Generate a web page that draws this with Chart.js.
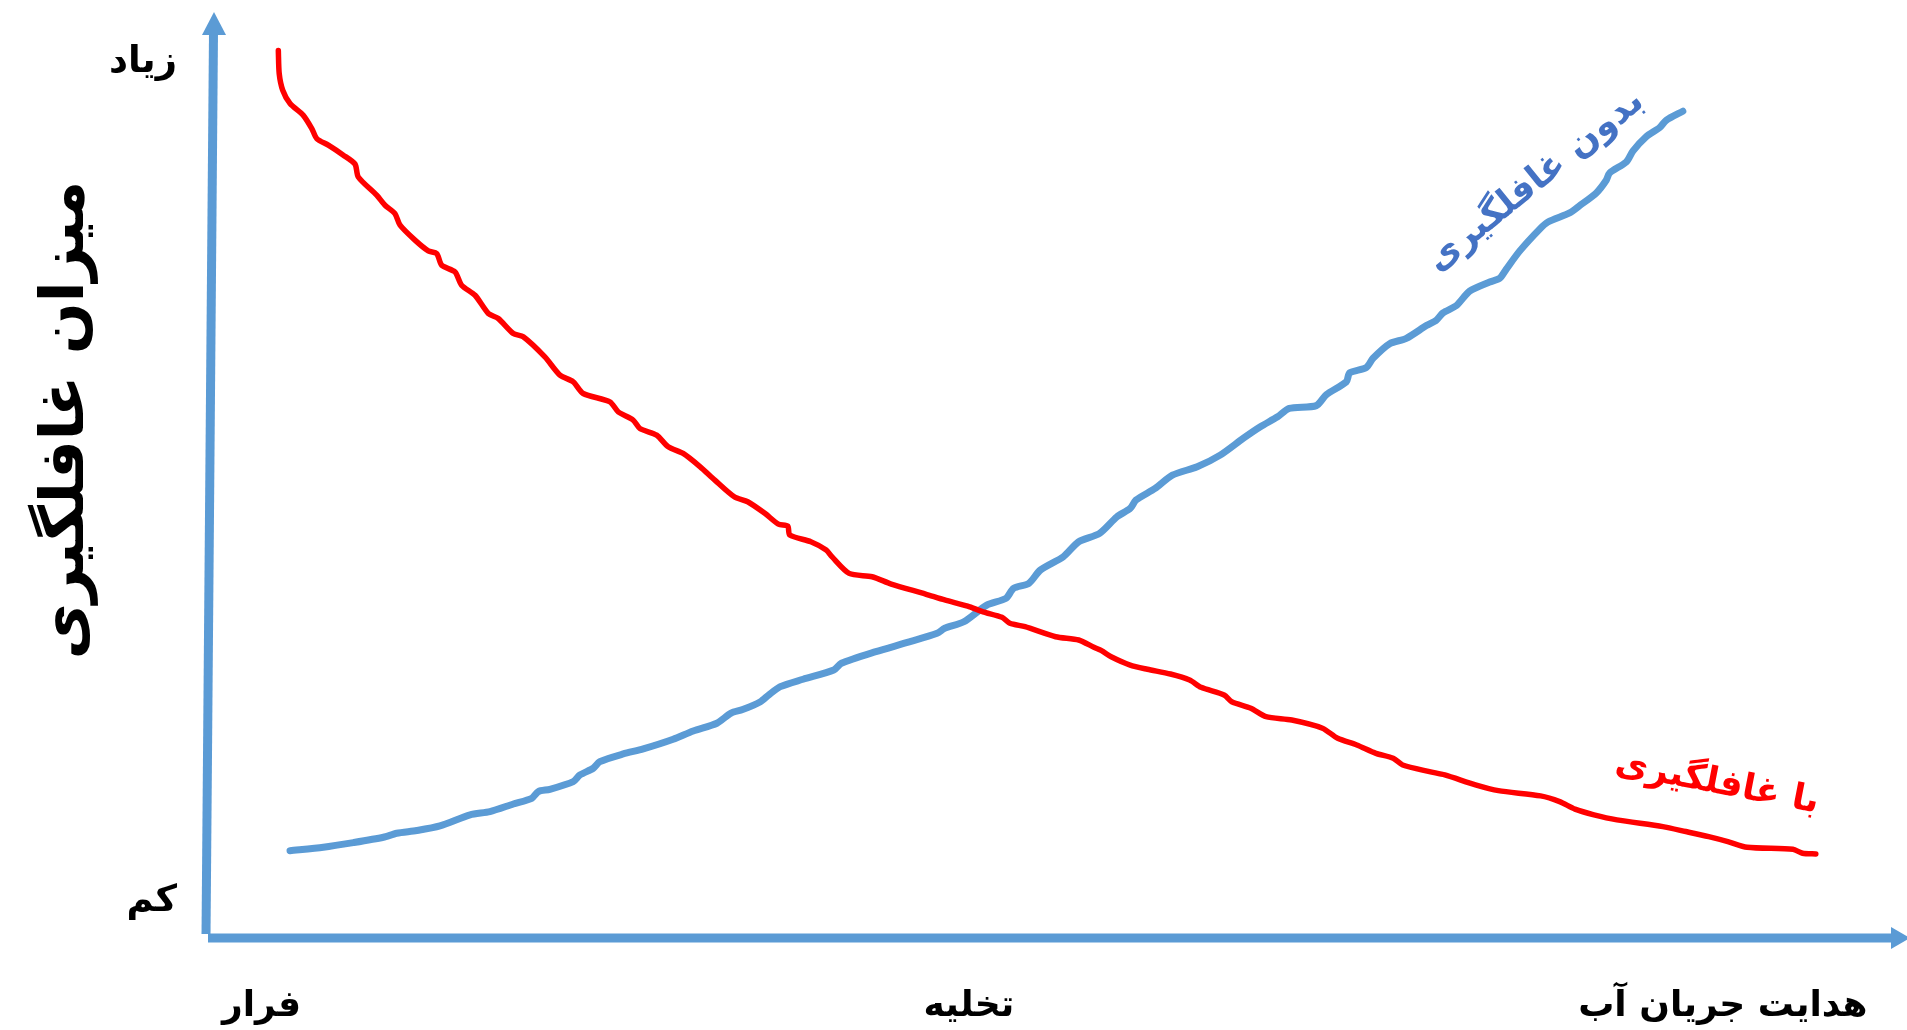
<!DOCTYPE html>
<html lang="fa">
<head>
<meta charset="utf-8">
<title>میزان غافلگیری</title>
<script src="https://cdn.jsdelivr.net/npm/chart.js@4.4.1/dist/chart.umd.min.js"></script>
<style>
  html, body { margin: 0; padding: 0; background: #fff; overflow: hidden; }
  #wrap { width: 1907px; height: 1030px; }
</style>
</head>
<body>
<div id="wrap"><canvas id="chart"></canvas></div>
<script>
'use strict';

// axis labels (x = course of action, y = level of surprise)
const xTickLabels = ['فرار', 'تخلیه', 'هدایت جریان آب']
const xTickValues = [0, 48.4, 100]
const yTickLabels = ['کم', 'زیاد']
const yTickValues = [0, 100]
const yTitle = 'میزان غافلگیری'
const seriesNames = ['با غافلگیری', 'بدون غافلگیری']

// red curve: with surprise
const redX = [1.15,1.21,1.45,1.95,2.86,3.44,3.78,4.57,5.6,6.4,6.62,7.88,8.45,9.13,9.48,10.5,11.41,11.99,12.33,13.24,
  13.69,14.61,15.52,16.2,17.23,17.91,19.39,20.42,21.33,22.01,23.84,24.41,25.43,25.89,27.04,27.83,28.85,30,31.02,32.35,
  33.27,34.44,35.37,36.01,36.15,37.59,38.64,39.03,40.21,41.78,43.09,45.44,46.75,48.32,49.37,50.67,51.21,52.25,54.34,55.92,
  56.96,57.48,58.14,59.44,60.62,62.2,63.51,64.29,65.87,66.39,67.7,68.74,70.5,72.6,73.64,74.95,76.26,77.44,78.09,79.92,
  80.97,83.07,84.64,87.52,88.83,89.88,91.18,92.75,95.89,97.46,99.03,100.34,101.66,104.79,105.45,106.36]
const redY = [101.4,98.65,96.67,95.09,93.68,92.1,90.91,90.12,88.93,87.86,86.33,84.16,82.96,81.97,80.58,78.8,77.52,77.2,75.81,75.01,
  73.43,72.23,70.06,69.46,67.67,67.28,64.88,62.71,61.91,60.52,59.52,58.33,57.35,56.35,55.55,54.16,53.38,51.81,50.19,48.2,
  47.61,46.23,44.94,44.71,43.64,42.84,41.86,41.06,39.07,38.67,37.8,36.61,35.9,35.17,34.49,33.83,33.12,32.71,31.52,31.13,
  30.26,29.86,29.13,28.14,27.64,27.07,26.36,25.49,24.57,23.77,22.99,21.99,21.59,20.61,19.41,18.61,17.62,17.03,16.23,15.43,
  15.04,13.86,13.17,12.54,11.86,10.96,10.28,9.68,8.88,8.29,7.68,7.09,6.42,6.17,5.71,5.62]

// blue curve: without surprise
const blueX = [1.95,4.23,6.28,8.34,9.25,10.62,12.21,14.27,15.63,17.23,18.49,18.94,19.73,21.33,21.79,22.7,23.15,24.75,26.12,28.17,
  29.54,31.16,32.13,32.92,34.14,34.71,35.5,37.06,39.16,39.68,42.04,44.13,46.23,46.75,48.06,49.63,50.94,51.46,52.51,53.29,
  54.87,55.92,57.35,58.53,59.44,59.84,61.15,62.33,64.03,65.6,67.17,68.35,69.53,70.32,72.18,72.86,74.23,74.46,75.6,76.06,
  77.2,78.34,79.71,80.39,80.85,81.76,82.67,84.04,84.73,85.17,86.09,87.45,88.03,89.51,90.19,91.34,92.02,92.25,93.39,93.84,
  94.76,95.67,96.12,97.26]
const blueY = [6.01,6.42,6.97,7.61,8.09,8.41,8.96,10.28,10.67,11.58,12.26,13.06,13.33,14.25,15.04,15.84,16.62,17.54,18.14,19.29,
  20.28,21.2,22.42,22.83,23.77,24.58,25.57,26.45,27.55,28.35,29.74,30.81,31.93,32.52,33.3,35.29,36.09,37.28,37.88,39.46,
  41.06,42.84,43.84,45.81,46.81,47.81,49.2,50.78,51.78,53.17,55.16,56.55,57.74,58.74,59.07,60.38,61.9,62.97,63.62,64.71,
  66.45,67.09,68.61,69.26,70.13,70.99,72.72,73.81,74.25,75.32,77.49,80.09,80.96,82.04,82.9,84.43,85.94,86.81,88.12,89.41,
  91.14,92.22,93.09,94.17]

const FONT = "'DejaVu Sans', sans-serif"

function toPoints(xs, ys) {
  return xs.map((x, i) => ({ x: x, y: ys[i] }))
}

// thick blue axes with arrow heads
const arrowAxes = {
  id: 'arrowAxes',
  beforeDatasetsDraw(chart) {
    const ctx = chart.ctx
    const a = chart.chartArea
    ctx.save()
    ctx.strokeStyle = '#5B9BD5'
    ctx.fillStyle = '#5B9BD5'
    ctx.lineWidth = 9
    // y axis leans a little to the right as it goes up
    ctx.beginPath()
    ctx.moveTo(a.left, a.bottom - 4)
    ctx.lineTo(a.left + 7.5, a.top + 20)
    ctx.stroke()
    ctx.beginPath()
    ctx.moveTo(a.left + 8, a.top)
    ctx.lineTo(a.left - 4, a.top + 23)
    ctx.lineTo(a.left + 20, a.top + 23)
    ctx.closePath()
    ctx.fill()
    // x axis
    ctx.beginPath()
    ctx.moveTo(a.left + 2, a.bottom)
    ctx.lineTo(a.right - 16, a.bottom)
    ctx.stroke()
    ctx.beginPath()
    ctx.moveTo(a.right + 3, a.bottom)
    ctx.lineTo(a.right - 16, a.bottom - 11)
    ctx.lineTo(a.right - 16, a.bottom + 11)
    ctx.closePath()
    ctx.fill()
    ctx.restore()
  }
}

// rotated y title and the two curve labels
const labelAnchors = [
  { x: 99.6, y: 14.0, angle: 11, color: '#FF0000', size: 36 },
  { x: 87.2, y: 85.8, angle: -39, color: '#4472C4', size: 36 }
]

const textLayer = {
  id: 'textLayer',
  afterDraw(chart) {
    const ctx = chart.ctx
    const xs = chart.scales.x
    const ys = chart.scales.y
    ctx.save()
    ctx.textAlign = 'center'
    ctx.textBaseline = 'middle'

    ctx.save()
    ctx.translate(67, 420)
    ctx.rotate(-Math.PI / 2)
    ctx.fillStyle = '#000'
    ctx.font = 'bold 61px ' + FONT
    ctx.fillText(yTitle, 0, 0)
    ctx.restore()

    labelAnchors.forEach((lab, i) => {
      ctx.save()
      ctx.translate(xs.getPixelForValue(lab.x), ys.getPixelForValue(lab.y))
      ctx.rotate(lab.angle * Math.PI / 180)
      ctx.fillStyle = lab.color
      ctx.font = 'bold ' + lab.size + 'px ' + FONT
      ctx.fillText(seriesNames[i], 0, 0)
      ctx.restore()
    })
    ctx.restore()
  }
}

function renderChart() {
  const data = {
    datasets: [
      {
        label: seriesNames[0],
        data: toPoints(redX, redY),
        borderColor: '#FF0000',
        borderWidth: 5.5,
        pointRadius: 0,
        tension: 0.25,
        borderCapStyle: 'round',
        borderJoinStyle: 'round',
      },
      {
        label: seriesNames[1],
        data: toPoints(blueX, blueY),
        borderColor: '#5B9BD5',
        borderWidth: 7,
        pointRadius: 0,
        tension: 0.25,
        borderCapStyle: 'round',
        borderJoinStyle: 'round',
      },
    ]
  }

  const config = {
    type: 'line',
    data: data,
    options: {
      responsive: true,
      maintainAspectRatio: false,
      animation: false,
      layout: { padding: { top: 12, right: 0, left: 0, bottom: 0 } },
      plugins: { legend: { display: false }, tooltip: { enabled: false } },
      scales: {
        x: {
          type: 'linear',
          min: -3.8,
          max: 112.6,
          grid: { display: false },
          border: { display: false },
          afterBuildTicks: (scale) => { scale.ticks = xTickValues.map(v => ({ value: v })) },
          afterFit: (scale) => { scale.height = 92 },
          ticks: {
            color: '#000',
            padding: 39,
            maxRotation: 0,
            autoSkip: false,
            font: { family: FONT, size: 36, weight: 'bold' },
            callback: (v) => xTickLabels[xTickValues.indexOf(v)],
          },
        },
        y: {
          type: 'linear',
          min: -4.4,
          max: 106,
          grid: { display: false },
          border: { display: false },
          afterBuildTicks: (scale) => { scale.ticks = yTickValues.map(v => ({ value: v })) },
          afterFit: (scale) => {
            scale.width = 206
            scale.paddingTop = 0
            scale.paddingBottom = 0
          },
          ticks: {
            color: '#000',
            padding: 21,
            autoSkip: false,
            font: { family: FONT, size: 37, weight: 'bold' },
            callback: (v) => yTickLabels[yTickValues.indexOf(v)],
          },
        },
      },
    },
    plugins: [arrowAxes, textLayer],
  }

  const chartElem = document.getElementById('chart')
  const resultChart = new Chart(chartElem, config)
}

renderChart();
</script>
</body>
</html>
